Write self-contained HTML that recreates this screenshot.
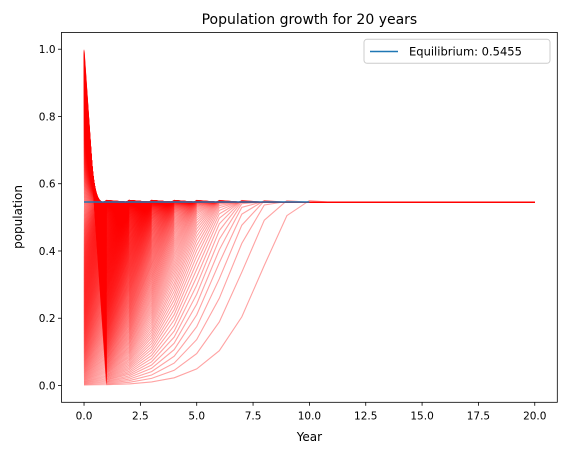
<!DOCTYPE html>
<html><head><meta charset="utf-8"><style>
body{margin:0;background:#fff;}
svg text{font-family:"DejaVu Sans","Liberation Sans",sans-serif;fill:#000;}
</style></head><body>
<svg id="chart" width="567" height="455" xmlns="http://www.w3.org/2000/svg">
<rect width="567" height="455" fill="#fff"/>
<text x="309.4" y="24" font-size="14" text-anchor="middle">Population growth for 20 years</text>
<g id="lines"></g>
<g id="axes"></g>
<text x="309.4" y="441" font-size="12" text-anchor="middle">Year</text>
<text x="22" y="217" font-size="12" text-anchor="middle" transform="rotate(-90 22 217)">population</text>
<g>
<rect x="364" y="39.3" width="186" height="24" rx="3" fill="#fff" fill-opacity="0.8" stroke="#ccc"/>
<line x1="370" y1="51.5" x2="398" y2="51.5" stroke="#1f77b4" stroke-width="1.5"/>
<text x="409" y="55.5" font-size="11.5">Equilibrium: 0.5455</text>
</g>
</svg>
<script>
// data
const growthRate = 2.2;
const years = 20;
const initialPopulations = Array.from({length:999},(_, i)=>(i+1)/1000);
const equilibrium = [0.5455];
const xTicks = [0,2.5,5,7.5,10,12.5,15,17.5,20];
const xTickLabels = ["0.0","2.5","5.0","7.5","10.0","12.5","15.0","17.5","20.0"];
const yTicks = [0,0.2,0.4,0.6,0.8,1.0];
const yTickLabels = ["0.0","0.2","0.4","0.6","0.8","1.0"];

const L=61.5,R=557.3,T=32.4,B=402.3;
const xs=v=>L+(v+1)/22*(R-L);
const ys=v=>B-(v+0.05)/1.1*(B-T);
const NS="http://www.w3.org/2000/svg";
const lines=document.getElementById('lines');
let html='';
initialPopulations.forEach(x0=>{
  let x=x0, pts=[];
  for(let t=0;t<=years;t++){pts.push(xs(t).toFixed(1)+','+ys(x).toFixed(1)); x=growthRate*x*(1-x);}
  html+='<polyline points="'+pts.join(' ')+'" fill="none" stroke="red" stroke-opacity="0.2" stroke-width="1.1"/>';
});
lines.innerHTML=html;
Array.from(lines.children).forEach(el=>{
  
  
});
const eq=document.createElementNS(NS,'line');
eq.setAttribute('x1',xs(0));eq.setAttribute('x2',xs(10));
eq.setAttribute('y1',ys(equilibrium[0]));eq.setAttribute('y2',ys(equilibrium[0]));
eq.setAttribute('stroke','#1f77b4');eq.setAttribute('stroke-width','1.5');


lines.appendChild(eq);

const axes=document.getElementById('axes');
let a='<rect x="'+L+'" y="'+T+'" width="'+(R-L)+'" height="'+(B-T)+'" fill="none" stroke="#000" stroke-width="0.8"/>';
xTicks.forEach((v,i)=>{const x=xs(v);
  a+='<line x1="'+x+'" x2="'+x+'" y1="'+B+'" y2="'+(B+3.5)+'" stroke="#000" stroke-width="0.8"/>';
  a+='<text x="'+x+'" y="'+(B+17)+'" font-size="10.5" text-anchor="middle">'+xTickLabels[i]+'</text>';});
yTicks.forEach((v,i)=>{const y=ys(v);
  a+='<line x1="'+(L-3.5)+'" x2="'+L+'" y1="'+y+'" y2="'+y+'" stroke="#000" stroke-width="0.8"/>';
  a+='<text x="'+(L-6)+'" y="'+(y+3.8)+'" font-size="10.5" text-anchor="end">'+yTickLabels[i]+'</text>';});
axes.innerHTML=a;
Array.from(axes.children).forEach(el=>{
  
  
});
</script>
</body></html>
